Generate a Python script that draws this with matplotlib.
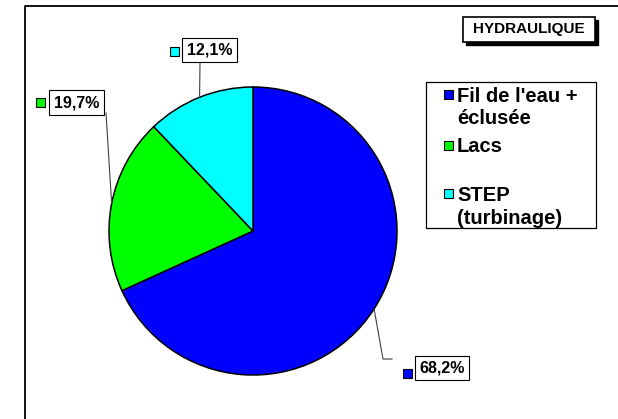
### Pie chart of hydraulic production split (HYDRAULIQUE) ###

import matplotlib
matplotlib.use("Agg")
import matplotlib.pyplot as plt
from matplotlib.patches import Rectangle
from matplotlib.lines import Line2D
import numpy as np

plt.rcParams['font.family'] = ['Liberation Sans', 'DejaVu Sans']

# data
categories = ["Fil de l'eau +\néclusée", "Lacs", "STEP\n(turbinage)"]
values = [68.2, 19.7, 12.1]
colors = ['#0000ff', '#00ff00', '#00ffff']
title = "HYDRAULIQUE"

# size of the picture in pixels
W, H = 618, 419

def fx(x):
    return x / W

def fy(y):
    return 1 - y / H

fig = plt.figure(figsize=(W / 100, H / 100), dpi=100)

# pie axes : centre (253,231), radius 144 px
cx, cy, r = 253, 231, 144
ax = fig.add_axes([fx(cx - r), fy(cy + r), 2 * r / W, 2 * r / H])
wedges, _ = ax.pie(values, colors=colors, startangle=90, counterclock=False,
                   wedgeprops=dict(edgecolor='black', linewidth=1.1))
ax.set_xlim(-1, 1)
ax.set_ylim(-1, 1)
ax.set_aspect('equal')
ax.axis('off')

# outer frame (only left and top are visible)
fig.add_artist(Line2D([fx(25), fx(25), fx(W)], [fy(H), fy(6), fy(6)],
                      transform=fig.transFigure, color='black', linewidth=1.3))

# data labels : text centre, key square centre, leader path after the pie edge
lab_text = [f"{v:.1f}%".replace('.', ',') for v in values]
lab_pos = [(442, 368), (76.5, 102.5), (209.5, 50)]
key_pos = [(407, 373), (40.5, 102.5), (174, 52)]
leader_pts = [[(383, 359), (392, 359)], [(106, 113)], [(200, 63)]]

inv = fig.transFigure.inverted()
for i, w in enumerate(wedges):
    ang = np.deg2rad((w.theta1 + w.theta2) / 2)
    ex, ey = inv.transform(ax.transData.transform((np.cos(ang), np.sin(ang))))
    xs = [ex] + [fx(p[0]) for p in leader_pts[i]]
    ys = [ey] + [fy(p[1]) for p in leader_pts[i]]
    fig.add_artist(Line2D(xs, ys, transform=fig.transFigure, color='#404040', linewidth=0.8))

    fig.text(fx(lab_pos[i][0]), fy(lab_pos[i][1]), lab_text[i], ha='center', va='center',
             fontsize=11.5, fontweight='bold',
             bbox=dict(boxstyle='square,pad=0.3', fc='white', ec='black', lw=0.8))
    kx, ky = key_pos[i]
    fig.add_artist(Rectangle((fx(kx - 4.5), fy(ky + 4.5)), 9 / W, 9 / H, transform=fig.transFigure,
                             facecolor=colors[i], edgecolor='black', linewidth=0.8))

# legend (drawn by hand, like the Excel one)
fig.add_artist(Rectangle((fx(426), fy(228)), 170 / W, 146 / H, transform=fig.transFigure,
                         facecolor='white', edgecolor='black', linewidth=0.9))
leg_y = [95, 145, 194]
for i, name in enumerate(categories):
    fig.add_artist(Rectangle((fx(443.5), fy(leg_y[i] + 4.5)), 9 / W, 9 / H, transform=fig.transFigure,
                             facecolor=colors[i], edgecolor='black', linewidth=0.8))
    for j, line in enumerate(name.split('\n')):
        fig.text(fx(457), fy(leg_y[i] + 22.5 * j + 7), line, ha='left', va='baseline',
                 fontsize=14.5, fontweight='bold')

# title box with shadow
fig.add_artist(Rectangle((fx(466), fy(45)), 132 / W, 25 / H, transform=fig.transFigure,
                         facecolor='black', edgecolor='black'))
fig.add_artist(Rectangle((fx(463), fy(42)), 132 / W, 25 / H, transform=fig.transFigure,
                         facecolor='white', edgecolor='black', linewidth=1.2))
fig.text(fx(529), fy(29.5), title, ha='center', va='center', fontsize=11, fontweight='bold')

plt.savefig('out.png', dpi=100)
